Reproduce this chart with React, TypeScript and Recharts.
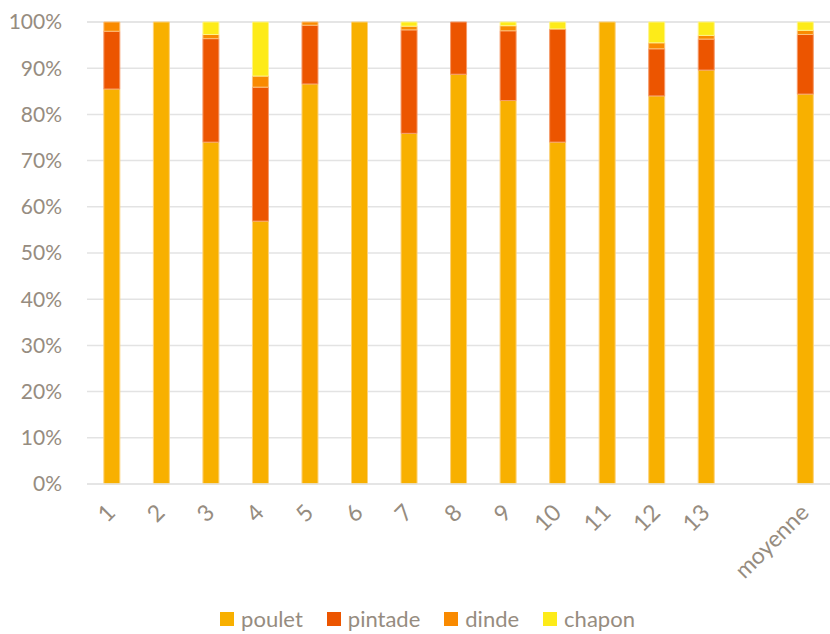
import React from "react";
import { BarChart, Bar, XAxis, YAxis, CartesianGrid, Legend } from "recharts";

const categories = ["1", "2", "3", "4", "5", "6", "7", "8", "9", "10", "11", "12", "13", "", "moyenne"];
const poulet = [85.5, 100, 74.0, 56.9, 86.6, 100, 75.9, 88.7, 83.0, 74.0, 100, 84.0, 89.6, null, 84.4];
const pintade = [12.5, 0, 22.4, 29.0, 12.7, 0, 22.4, 11.3, 15.1, 24.5, 0, 10.2, 6.7, null, 12.9];
const dinde = [2.0, 0, 0.9, 2.4, 0.7, 0, 0.8, 0, 1.1, 0, 0, 1.3, 0.8, null, 0.9];
const chapon = [0, 0, 2.7, 11.7, 0, 0, 0.9, 0, 0.8, 1.5, 0, 4.5, 2.9, null, 1.8];
const yTicks = [0, 10, 20, 30, 40, 50, 60, 70, 80, 90, 100];
const seriesNames = ["poulet", "pintade", "dinde", "chapon"];
const seriesColors = ["#F8B000", "#EC5500", "#F98A00", "#FDEB19"];

const data = categories.map((c, i) => ({
  cat: c,
  poulet: poulet[i],
  pintade: pintade[i],
  dinde: dinde[i],
  chapon: chapon[i],
}));

const TEXT = "#968C80";
const FONT = "Lato, 'Noto Sans', sans-serif";

const XTick = (props: any) => {
  const { x, y, payload } = props;
  const tx = x + 5;
  const ty = y + 22;
  return (
    <text
      x={tx}
      y={ty}
      transform={`rotate(-45 ${tx} ${ty})`}
      textAnchor="end"
      fill={TEXT}
      fontSize={23}
      fontFamily={FONT}
    >
      {payload.value}
    </text>
  );
};

const LegendContent = () => (
  <div style={{ display: "flex", justifyContent: "center", alignItems: "center", fontFamily: FONT, fontSize: 22, lineHeight: "26px", color: TEXT, paddingLeft: 25 }}>
    {seriesNames.map((n, i) => (
      <div key={n} style={{ display: "flex", alignItems: "center", marginRight: i < seriesNames.length - 1 ? 24 : 0 }}>
        <span style={{ display: "inline-block", width: 14, height: 14, background: seriesColors[i], marginRight: 7 }} />
        <span>{n}</span>
      </div>
    ))}
  </div>
);

export default function App() {
  return (
    <div style={{ position: "fixed", top: 0, left: 0, width: 830, height: 634, background: "#fff" }}>
      <BarChart
        width={830}
        height={634}
        data={data}
        margin={{ top: 22, right: 0, bottom: 2, left: 0 }}
        barCategoryGap="34%"
      >
        <CartesianGrid vertical={false} stroke="#E3E3E3" strokeWidth={1.5} />
        <XAxis
          dataKey="cat"
          tickLine={false}
          axisLine={{ stroke: "#E3E3E3", strokeWidth: 1.5 }}
          interval={0}
          height={122}
          tick={<XTick />}
        />
        <YAxis
          domain={[0, 100]}
          ticks={yTicks}
          tickFormatter={(v: number) => `${v}%`}
          tickLine={false}
          axisLine={false}
          tickSize={0}
          tickMargin={25}
          width={87}
          tick={{ fill: TEXT, fontSize: 21, fontFamily: FONT }}
        />
        <Legend verticalAlign="bottom" align="center" content={<LegendContent />} />
        <Bar dataKey="poulet" stackId="a" fill={seriesColors[0]} stroke="#FCD27A" strokeWidth={1} isAnimationActive={false} />
        <Bar dataKey="pintade" stackId="a" fill={seriesColors[1]} stroke="#F59A6A" strokeWidth={1} isAnimationActive={false} />
        <Bar dataKey="dinde" stackId="a" fill={seriesColors[2]} stroke="#FCC07A" strokeWidth={1} isAnimationActive={false} />
        <Bar dataKey="chapon" stackId="a" fill={seriesColors[3]} stroke="#FEF48A" strokeWidth={1} isAnimationActive={false} />
      </BarChart>
    </div>
  );
}
